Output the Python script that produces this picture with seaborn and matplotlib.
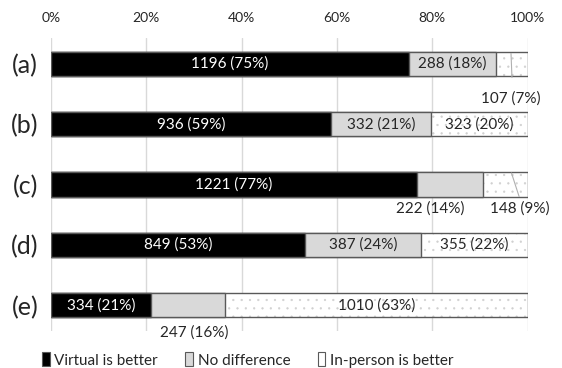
import numpy as np
import pandas as pd
import seaborn as sns
import matplotlib.pyplot as plt
from matplotlib.patches import Patch, Rectangle

#%% Data
groups = ["(a)", "(b)", "(c)", "(d)", "(e)"]
virtual = [1196, 936, 1221, 849, 334]
no_diff = [288, 332, 222, 387, 247]
in_person = [107, 323, 148, 355, 1010]
virtual_pct = [75, 59, 77, 53, 21]
no_diff_pct = [18, 21, 14, 24, 16]
in_person_pct = [7, 20, 9, 22, 63]
legend_labels = ["Virtual is better", "No difference", "In-person is better"]
xticks = [0, 20, 40, 60, 80, 100]

df = pd.DataFrame({"group": groups, "virtual": virtual,
                   "no_diff": no_diff, "in_person": in_person})
total = df[["virtual", "no_diff", "in_person"]].sum(axis=1)
df["c1"] = df["virtual"] / total * 100
df["c2"] = (df["virtual"] + df["no_diff"]) / total * 100
df["c3"] = (df["virtual"] + df["no_diff"] + df["in_person"]) / total * 100

#%% Style
sns.set_style("white")
plt.rcParams["font.family"] = ["Lato", "DejaVu Sans"]
plt.rcParams["hatch.linewidth"] = 0.4
edge = "#595959"
bar_w = 0.40

fig = plt.figure(figsize=(5.62, 3.68), dpi=100)
ax = fig.add_axes([50.7 / 562, 1 - 330.75 / 368, 477 / 562, 292.5 / 368])

# in-person layer (dotted), then gray, then black on top
sns.barplot(data=df, x="c3", y="group", color="white", edgecolor="#d0d0d0",
            hatch="..", linewidth=0, width=bar_w, ax=ax, zorder=2)
n = len(ax.patches)
for p in list(ax.patches)[:n]:
    ax.add_patch(Rectangle(p.get_xy(), p.get_width(), p.get_height(),
                           fill=False, ec=edge, lw=1, zorder=2.1))
sns.barplot(data=df, x="c2", y="group", color="#d9d9d9", edgecolor=edge,
            linewidth=1, width=bar_w, ax=ax, zorder=3, saturation=1)
sns.barplot(data=df, x="c1", y="group", color="black", edgecolor=edge,
            linewidth=1, width=bar_w, ax=ax, zorder=4, saturation=1)

#%% Labels
fs = 11
for i in range(len(groups)):
    c1, c2, c3 = df["c1"][i], df["c2"][i], df["c3"][i]
    t1 = f"{virtual[i]} ({virtual_pct[i]}%)"
    t2 = f"{no_diff[i]} ({no_diff_pct[i]}%)"
    t3 = f"{in_person[i]} ({in_person_pct[i]}%)"
    ax.text(c1 / 2, i, t1, color="white", ha="center", va="center", fontsize=fs, zorder=5)
    if i == 2:
        ax.text(79.5, i + 0.40, t2, ha="center", va="center", fontsize=fs)
    elif i == 4:
        ax.text(30.0, i + 0.45, t2, ha="center", va="center", fontsize=fs)
    else:
        ax.text((c1 + c2) / 2, i, t2, ha="center", va="center", fontsize=fs, zorder=5)
    if i == 0:
        ax.text(96.4, i + 0.58, t3, ha="center", va="center", fontsize=fs)
        ax.plot([96.5, 96.7], [i - 0.17, i + 0.23], color="#b0b0b0", lw=0.8, zorder=5)
    elif i == 2:
        ax.text(98.4, i + 0.40, t3, ha="center", va="center", fontsize=fs)
        ax.plot([96.6, 98.2], [i - 0.19, i + 0.2], color="#b0b0b0", lw=0.8, zorder=5)
    else:
        ax.text((c2 + c3) / 2, i, t3, ha="center", va="center", fontsize=fs, zorder=5)

#%% Axes
ax.set_xlim(0, 100)
ax.set_xticks(xticks)
ax.set_xticklabels([f"{t}%" for t in xticks])
ax.xaxis.tick_top()
ax.tick_params(axis="x", length=0, pad=10, labelsize=10)
ax.tick_params(axis="y", length=0, pad=9, labelsize=18)
ax.set_xlabel("")
ax.set_ylabel("")
ax.grid(axis="x", color="#d9d9d9", lw=1)
ax.set_axisbelow(True)
for s in ax.spines.values():
    s.set_visible(False)

handles = [Patch(fc="black", ec=edge, lw=0.8),
           Patch(fc="#d9d9d9", ec=edge, lw=0.8),
           Patch(fc="white", ec=edge, lw=0.8)]
fig.legend(handles, legend_labels, loc="center", bbox_to_anchor=(0.441, 1 - 360 / 368),
           ncol=3, frameon=False, fontsize=11, handlelength=0.5, handleheight=1.0,
           handletextpad=0.3, columnspacing=1.8)

fig.savefig("out.png", dpi=100)
